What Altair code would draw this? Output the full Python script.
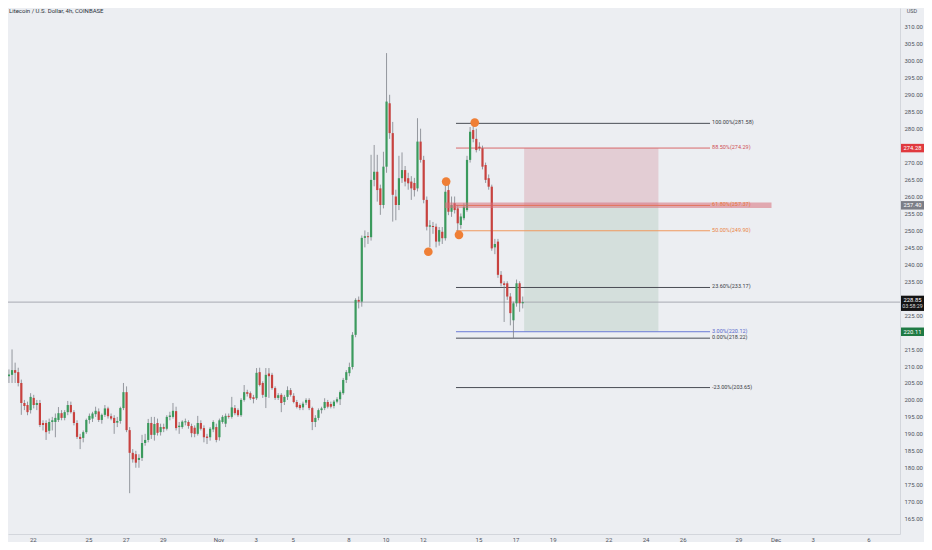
import altair as alt
import pandas as pd

TITLE = "Litecoin / U.S. Dollar, 4h, COINBASE"
FIRST_BAR_DAY = 20.55      # days counted from 1 Oct (1 Nov = 32, 1 Dec = 62)
BARS_PER_DAY = 6           # 4h candles

OPEN = [203.9, 207.0, 207.4, 208.8, 208.2, 205.0, 199.1, 198.5, 197.0, 200.6, 198.5, 199.1, 193.2, 193.2, 190.9, 193.5, 193.5, 194.1, 196.1, 194.7, 196.4, 198.5, 196.4, 193.2, 189.1, 188.8, 190.5, 194.1, 194.5, 195.8, 196.6, 194.1, 195.6, 197.5, 195.2, 194.7, 193.3, 193.8, 197.6, 202.3, 191.1, 184.4,
        184.0, 182.3, 182.9, 187.3, 188.2, 193.2, 189.7, 193.2, 190.5, 192.0, 191.5, 195.0, 195.0, 196.7, 192.0, 192.0, 193.4, 193.5, 192.3, 191.8, 190.0, 193.2, 191.7, 189.2, 189.0, 191.3, 192.0, 189.0, 193.5, 193.0, 195.3, 195.0, 197.6, 197.0, 195.5, 200.0, 202.3, 202.0, 200.8, 200.5, 208.2, 205.0,
        200.9, 207.8, 207.4, 203.5, 200.6, 201.5, 199.4, 200.9, 202.9, 201.2, 199.4, 198.5, 197.8, 199.2, 200.0, 197.6, 193.5, 194.7, 197.0, 197.6, 199.4, 198.8, 198.2, 199.5, 200.2, 202.0, 205.9, 207.9, 209.7, 219.2, 229.5,
        229.0, 247.8, 248.3, 248.0, 264.9, 267.3, 262.4, 257.5, 268.8, 287.5, 278.7, 260.0, 257.5, 265.4, 267.8, 265.4, 264.4, 264.0, 262.4, 276.2, 270.8, 259.0, 251.1, 251.3, 251.1, 246.7, 249.6, 247.7,
        261.9, 255.5, 258.0, 256.5, 251.6, 253.6, 256.0, 270.8, 279.6, 277.0, 274.7, 274.2, 269.3, 265.4, 262.9, 245.0, 246.7, 236.9, 234.4, 234.4, 230.5, 223.5, 228.5, 234.4, 228.5]
HIGH = [209.7, 209.0, 214.9, 211.0, 209.5, 206.0, 200.0, 199.5, 202.0, 201.5, 200.0, 200.0, 194.0, 194.0, 194.5, 195.0, 196.0, 197.9, 197.0, 197.0, 199.7, 199.5, 197.0, 194.0, 190.0, 191.0, 194.5, 196.0, 196.5, 198.0, 197.5, 196.0, 198.5, 198.0, 196.0, 195.5, 195.0, 198.0, 205.0, 204.0, 192.0, 185.5,
        185.0, 184.0, 189.7, 190.0, 194.4, 195.0, 195.0, 194.5, 193.0, 193.0, 195.5, 196.5, 199.1, 198.0, 193.5, 194.0, 194.5, 194.0, 193.0, 192.5, 195.3, 194.0, 192.5, 190.0, 192.0, 194.0, 193.0, 194.5, 195.5, 196.0, 196.0, 200.9, 198.5, 197.5, 200.5, 204.4, 203.0, 202.5, 201.5, 209.4, 209.5, 205.5,
        209.4, 209.4, 208.0, 204.0, 202.0, 202.0, 201.5, 204.0, 203.5, 202.0, 200.0, 199.0, 199.5, 200.5, 200.5, 198.0, 195.5, 197.5, 198.0, 200.5, 200.0, 199.5, 200.0, 200.8, 202.8, 206.5, 208.8, 211.0, 220.0, 230.0, 230.5,
        248.5, 250.0, 249.5, 272.3, 275.2, 272.3, 263.5, 273.2, 302.3, 290.0, 282.0, 262.0, 272.0, 273.0, 269.0, 267.0, 266.0, 265.5, 283.1, 280.0, 272.0, 260.0, 253.0, 252.5, 252.0, 251.0, 251.0, 264.4,
        264.0, 260.0, 260.0, 257.5, 255.0, 258.0, 272.0, 280.5, 281.6, 280.0, 276.0, 275.0, 270.0, 266.5, 263.5, 247.5, 247.5, 238.0, 235.0, 235.0, 231.5, 229.0, 235.5, 235.0, 230.5]
LOW = [202.9, 205.0, 205.0, 205.0, 204.0, 195.6, 197.0, 195.5, 196.0, 197.5, 197.0, 192.0, 191.0, 188.2, 190.0, 191.0, 189.0, 193.5, 194.0, 194.0, 195.5, 196.0, 192.5, 188.5, 185.5, 187.5, 190.0, 193.0, 193.5, 195.0, 193.5, 193.0, 195.0, 194.5, 194.0, 190.0, 192.0, 193.0, 197.0, 190.5, 172.5, 181.5,
       180.0, 180.0, 182.0, 186.5, 187.5, 188.5, 188.0, 189.5, 189.5, 190.5, 191.0, 194.0, 194.5, 191.0, 190.0, 191.5, 192.5, 191.5, 189.0, 189.0, 189.5, 191.0, 187.5, 187.0, 188.0, 190.5, 187.5, 188.0, 193.0, 192.0, 194.5, 194.5, 195.5, 195.0, 195.0, 199.5, 201.0, 200.0, 199.0, 200.0, 204.0, 200.6,
       197.6, 200.6, 203.0, 200.0, 200.0, 196.4, 198.5, 200.0, 201.0, 199.0, 197.5, 197.0, 197.0, 198.5, 197.0, 191.1, 192.0, 194.0, 196.0, 197.0, 197.5, 197.5, 197.5, 199.0, 198.5, 201.5, 205.0, 207.0, 209.0, 218.5, 227.0,
       227.5, 245.0, 246.0, 247.0, 263.0, 258.5, 254.6, 256.5, 267.0, 277.0, 252.6, 253.0, 256.0, 264.0, 263.0, 262.0, 259.0, 260.0, 261.5, 270.0, 258.0, 250.0, 245.0, 249.0, 245.0, 245.5, 246.0, 247.0,
       254.5, 254.0, 255.0, 249.5, 250.5, 253.0, 255.5, 270.0, 276.0, 273.0, 273.5, 268.0, 264.0, 262.0, 244.0, 243.0, 236.0, 233.5, 223.0, 229.5, 222.0, 218.2, 227.5, 226.0, 227.0]
CLOSE = [207.4, 207.5, 208.8, 208.0, 205.0, 199.1, 198.2, 196.4, 200.9, 198.5, 199.1, 192.6, 192.6, 190.5, 193.5, 194.0, 194.7, 196.1, 194.7, 196.4, 198.5, 196.4, 193.2, 189.1, 188.5, 190.5, 194.1, 195.3, 196.0, 196.8, 194.1, 195.6, 197.5, 195.2, 194.5, 193.2, 193.8, 197.6, 202.3, 191.1, 184.4, 182.5,
         181.5, 182.9, 187.3, 188.2, 193.2, 189.7, 192.9, 190.3, 192.0, 191.5, 195.0, 195.4, 196.8, 191.7, 192.4, 193.6, 193.7, 192.3, 190.2, 190.0, 193.2, 191.5, 189.0, 188.8, 191.5, 193.5, 188.2, 194.0, 195.0, 195.3, 195.0, 197.8, 196.1, 195.5, 200.0, 202.3, 201.8, 200.5, 200.3, 208.0, 204.4, 201.5,
         207.4, 207.0, 203.5, 200.6, 201.4, 199.1, 200.9, 202.9, 201.5, 199.4, 197.9, 197.6, 198.9, 200.0, 197.6, 193.5, 194.7, 197.0, 197.5, 199.4, 198.0, 198.0, 199.5, 200.2, 202.3, 205.9, 208.2, 209.7, 219.2, 229.5, 229.0,
         247.8, 248.3, 248.0, 264.9, 267.3, 261.9, 257.5, 268.8, 288.0, 278.7, 260.5, 257.5, 265.4, 267.8, 264.4, 263.9, 262.4, 261.9, 276.2, 270.8, 259.0, 251.1, 251.5, 251.0, 246.7, 250.1, 247.7, 261.4,
         255.5, 257.5, 256.0, 252.1, 254.1, 257.0, 270.8, 279.1, 277.0, 273.7, 274.2, 268.8, 264.9, 262.9, 244.7, 246.0, 236.9, 234.4, 233.9, 230.5, 225.6, 228.5, 234.4, 228.5, 228.85]

X_TICKS = [22, 25, 27, 29, 32, 34, 36, 39, 41, 43, 46, 48, 50, 53, 55, 57, 60, 62, 64, 67]
# axis prices every 5; 220, 230 and 275 sit under the price tags, as in the original
Y_TICKS = [v for v in range(160, 315, 5) if v not in (220, 230, 275)]

FIB_LEVEL = ["100.00%", "88.50%", "61.80%", "50.00%", "23.60%", "3.00%", "0.00%", "-23.00%"]
FIB_PRICE = [281.58, 274.29, 257.37, 249.90, 233.17, 220.12, 218.22, 203.65]
FIB_COLOR = ["#4a4d55", "#d9686b", "#ee7a3a", "#f0995e", "#4a4d55", "#6b7bd6", "#4a4d55", "#4a4d55"]
FIB_TEXT_COLOR = ["#3a3d45", "#cf4f55", "#e8763a", "#ea8445", "#3a3d45", "#5566cc", "#3a3d45", "#3a3d45"]
FIB_START, FIB_END = 44.79, 58.47

BOX_START, BOX_END = 48.46, 55.69
STOP, ENTRY, TARGET = 274.29, 257.40, 220.12
BAND_START, BAND_END = 44.20, 61.78
BAND_LOW, BAND_HIGH = 256.6, 258.2

PIVOT_DAY = [43.30, 44.26, 44.95, 45.80]
PIVOT_PRICE = [243.7, 264.4, 248.7, 281.8]

LAST_PRICE = 228.85
COUNTDOWN = "03:58:29"
TAG_PRICE = [274.28, 257.40, 228.85, 220.11]
TAG_TEXT = ["274.28", "257.40", "228.85", "220.11"]
TAG_COLOR = ["#e0393e", "#7b7e87", "#131313", "#1f7a44"]
TAG_BELOW = [1.25, 1.25, 2.6, 1.25]
TAG_ABOVE = [1.25, 1.25, 1.9, 1.25]

W, H = 892, 526
X_DOMAIN = [20.935, 68.43]
Y_DOMAIN = [160.46, 315.6]
FONT = "Roboto"

xs = alt.Scale(domain=X_DOMAIN, nice=False, zero=False)
ys = alt.Scale(domain=Y_DOMAIN, nice=False, zero=False)
xaxis = alt.Axis(values=X_TICKS, title=None, grid=False, ticks=False, domainColor="#d3d6dc",
                 labelFontSize=6, labelColor="#50535e", labelPadding=2, labelFont=FONT,
                 labelOverlap=False, labelFlush=False,
                 labelExpr="datum.value == 32 ? 'Nov' : datum.value == 62 ? 'Dec' : '' + (datum.value > 62 ? datum.value - 61 : datum.value > 31 ? datum.value - 31 : datum.value)")
yaxis = alt.Axis(orient="right", values=Y_TICKS, format=".2f", title=None, grid=False, ticks=False,
                 domainColor="#d3d6dc", labelFontSize=6, labelColor="#50535e", labelPadding=4,
                 labelFont=FONT, labelOverlap=False, labelFlush=False)


def X(f):
    return alt.X(f, type="quantitative", scale=xs, axis=xaxis)


def Y(f):
    return alt.Y(f, type="quantitative", scale=ys, axis=yaxis)


n = len(OPEN)
bars = pd.DataFrame({
    "t": [FIRST_BAR_DAY + i / BARS_PER_DAY for i in range(n)],
    "o": OPEN, "h": HIGH, "l": LOW, "c": CLOSE,
    "dir": ["up" if c >= o else "down" for o, c in zip(OPEN, CLOSE)],
})

boxes_df = pd.DataFrame({
    "x0": [BOX_START, BOX_START], "x1": [BOX_END, BOX_END],
    "y0": [ENTRY, TARGET], "y1": [STOP, ENTRY],
    "col": ["#e3cdd4", "#d4dfdc"],
})
fib_df = pd.DataFrame({
    "x0": [FIB_START] * len(FIB_PRICE), "x1": [FIB_END] * len(FIB_PRICE),
    "p": FIB_PRICE, "col": FIB_COLOR, "tcol": FIB_TEXT_COLOR,
    "label": [f"{lv}({p:.2f})" for lv, p in zip(FIB_LEVEL, FIB_PRICE)],
})
band_df = pd.DataFrame({"x0": [BAND_START], "x1": [BAND_END], "y0": [BAND_LOW], "y1": [BAND_HIGH]})
pivot_df = pd.DataFrame({"d": PIVOT_DAY, "p": PIVOT_PRICE})
last_df = pd.DataFrame({"p": [LAST_PRICE], "cd": [COUNTDOWN]})
tag_df = pd.DataFrame({
    "p": TAG_PRICE, "txt": TAG_TEXT, "col": TAG_COLOR,
    "lo": [p - b for p, b in zip(TAG_PRICE, TAG_BELOW)],
    "hi": [p + a for p, a in zip(TAG_PRICE, TAG_ABOVE)],
})
tag_single = tag_df[tag_df["txt"] != f"{LAST_PRICE:.2f}"]
tag_last = tag_df[tag_df["txt"] == f"{LAST_PRICE:.2f}"]

boxes = alt.Chart(boxes_df).mark_rect().encode(
    x=X("x0"), x2="x1", y=Y("y0"), y2="y1", color=alt.Color("col:N", scale=None))
fib_lines = alt.Chart(fib_df).mark_rule(strokeWidth=1).encode(
    x=X("x0"), x2="x1", y=Y("p"), color=alt.Color("col:N", scale=None))
price_line = alt.Chart(last_df).mark_rule(color="#a7aab2", strokeWidth=1).encode(
    y=Y("p"), x=alt.value(0), x2=alt.value(W))
wicks = alt.Chart(bars).mark_rule(color="#7e8189", strokeWidth=0.8, clip=True).encode(
    x=X("t"), y=Y("l"), y2="h")
bodies = alt.Chart(bars).mark_bar(size=2.2, clip=True).encode(
    x=X("t"), y=Y("o"), y2="c",
    color=alt.Color("dir:N", scale=alt.Scale(domain=["up", "down"], range=["#3b9a5d", "#c8423f"]), legend=None))
band = alt.Chart(band_df).mark_rect(color="#d8707a", opacity=0.55).encode(
    x=X("x0"), x2="x1", y=Y("y0"), y2="y1")
fib_text = alt.Chart(fib_df).mark_text(align="left", baseline="middle", dx=2, dy=-1, fontSize=5.5, font=FONT).encode(
    x=X("x1"), y=Y("p"), text="label", color=alt.Color("tcol:N", scale=None))
pivots = alt.Chart(pivot_df).mark_circle(size=75, color="#ef7f36", opacity=1).encode(x=X("d"), y=Y("p"))

tags = alt.Chart(tag_df).mark_rect(clip=False).encode(
    x=alt.value(W + 1), x2=alt.value(W + 24), y=Y("lo"), y2="hi", color=alt.Color("col:N", scale=None))
tag_text = alt.Chart(tag_single).mark_text(color="white", fontSize=5.8, font=FONT, align="center", baseline="middle").encode(
    x=alt.value(W + 12.5), y=Y("p"), text="txt")
tag_last_text = alt.Chart(tag_last).mark_text(color="white", fontSize=5.8, font=FONT, align="center", baseline="middle", dy=-2.5).encode(
    x=alt.value(W + 12.5), y=Y("p"), text="txt")
countdown = alt.Chart(last_df).mark_text(color="#dddddd", fontSize=5.3, font=FONT, align="center", baseline="middle", dy=3.6).encode(
    x=alt.value(W + 12.5), y=Y("p"), text="cd")

title = alt.Chart(pd.DataFrame({"s": [TITLE]})).mark_text(
    align="left", baseline="middle", fontSize=6, font=FONT, color="#2a2e39").encode(
    x=alt.value(1), y=alt.value(3), text="s")
usd = alt.Chart(pd.DataFrame({"s": ["USD"]})).mark_text(
    align="center", baseline="middle", fontSize=5.5, font=FONT, color="#50535e").encode(
    x=alt.value(W + 12), y=alt.value(3), text="s")

chart = alt.layer(
    boxes, fib_lines, price_line, wicks, bodies, band, fib_text, pivots,
    tags, tag_text, tag_last_text, countdown, title, usd
).properties(
    width=W, height=H,
    autosize=alt.AutoSizeParams(type="none"),
    padding={"left": 0, "top": 0, "right": 24, "bottom": 8},
).configure(background="#eceef2").configure_view(stroke=None)

chart.save("out.html", embed_options={"renderer": "svg", "actions": False})
